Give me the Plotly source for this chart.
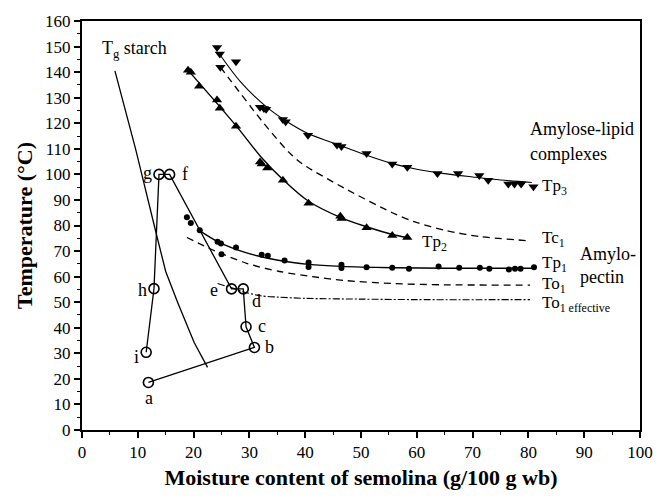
import plotly.graph_objects as go

# ---------------- data ----------------
# Tp3 (amylose-lipid complexes) - down triangles
tp3_x = [24.2, 24.7, 27.6, 24.8, 31.9, 32.6, 33.0, 36.0, 36.5, 40.5, 45.7, 46.5, 51.0, 55.6,
         58.3, 63.7, 67.4, 71.2, 72.8, 76.4, 77.5, 78.7, 80.9]
tp3_y = [149.6, 147.1, 144.1, 141.9, 126.3, 125.8, 125.5, 121.5, 120.6, 115.3, 111.5, 110.9, 108.2, 104.1,
         102.8, 100.3, 100.3, 99.6, 97.7, 96.2, 96.2, 96.2, 95.2]
tp3_fit_x = [24.5, 28.3, 33.0, 36.5, 40.5, 46.0, 51.0, 56.0, 60.0, 65.0, 70.0, 75.0, 80.6]
tp3_fit_y = [147.5, 136.5, 126.5, 121.0, 116.0, 111.5, 107.5, 104.0, 102.0, 100.3, 99.0, 97.8, 96.8]

# Tp2 - up triangles
tp2_x = [19.0, 19.5, 21.0, 24.2, 24.7, 27.6, 31.9, 32.2, 33.2, 36.0, 40.6, 46.3, 46.5, 51.0, 55.6, 58.3]
tp2_y = [140.7, 140.0, 134.5, 129.1, 125.9, 118.8, 104.8, 104.1, 102.5, 97.7, 88.7, 83.6, 82.7, 79.1, 76.1, 75.3]
tp2_fit_x = [19.5, 24.5, 28.0, 32.0, 36.0, 40.6, 46.5, 51.0, 55.6, 58.3]
tp2_fit_y = [139.5, 127.0, 118.0, 107.0, 98.0, 89.5, 83.0, 79.5, 76.5, 75.3]

# Tp1 (amylopectin) - filled circles
tp1_x = [18.8, 19.5, 21.1, 24.3, 24.9, 25.0, 27.6, 32.2, 33.3, 36.3, 40.6, 40.6, 46.5, 46.5, 51.0, 55.6,
         58.6, 63.9, 67.6, 71.3, 73.0, 76.5, 77.6, 78.6, 81.0]
tp1_y = [83.2, 81.0, 78.1, 73.6, 73.0, 68.8, 71.4, 68.6, 68.2, 66.3, 65.5, 63.8, 64.6, 63.4, 63.7, 63.5,
         63.1, 64.0, 63.5, 63.5, 63.1, 62.8, 63.1, 63.1, 63.7]
tp1_fit_x = [20.7, 24.5, 29.5, 35.4, 40.6, 46.5, 55.6, 65.0, 81.0]
tp1_fit_y = [78.5, 73.5, 69.3, 66.3, 64.8, 64.0, 63.5, 63.3, 63.3]

# Tc1 dashed
tc1_x = [24.8, 26.6, 32.5, 37.1, 39.5, 47.1, 55.6, 59.5, 65.3, 71.2, 80.3]
tc1_y = [142.0, 136.8, 120.2, 108.6, 104.1, 94.5, 85.0, 81.5, 78.0, 75.7, 74.0]

# To1 dashed
to1_x = [18.8, 23.7, 29.5, 35.4, 41.3, 47.0, 55.6, 65.0, 80.3]
to1_y = [75.3, 70.2, 65.2, 62.0, 60.0, 58.5, 57.3, 56.8, 56.7]

# To1 effective dash-dot
to1e_x = [24.3, 27.0, 29.0, 32.0, 35.0, 40.0, 50.0, 60.0, 80.3]
to1e_y = [57.3, 55.5, 54.0, 52.5, 52.0, 51.5, 51.2, 51.0, 51.0]

# Tg starch
tg_x = [5.9, 9.6, 13.4, 15.0, 17.2, 20.1, 22.5]
tg_y = [140.5, 110.0, 76.0, 62.0, 49.6, 34.2, 24.5]

# process path a..i (open circles)
path_lbl = ["a", "b", "c", "d", "e", "f", "g", "h", "i"]
path_x = [11.9, 30.9, 29.4, 28.9, 26.8, 15.7, 13.8, 12.9, 11.5]
path_y = [18.6, 32.3, 40.4, 55.2, 55.2, 100.0, 100.0, 55.3, 30.4]
lbl_x = [12.0, 33.6, 32.2, 31.3, 23.7, 18.5, 11.7, 10.9, 9.8]
lbl_y = [12.6, 32.3, 40.7, 50.6, 54.8, 100.0, 100.6, 54.8, 28.6]

x_ticks = list(range(0, 101, 10))
y_ticks = list(range(0, 161, 10))

FONT = "Liberation Serif"
fig = go.Figure()

def line(x, y, dash="solid", width=1.1, shape="spline"):
    fig.add_trace(go.Scatter(x=x, y=y, mode="lines", line=dict(color="black", width=width, dash=dash,
                                                                 shape=shape, smoothing=0.8),
                             showlegend=False, hoverinfo="skip"))

line(tp3_fit_x, tp3_fit_y, width=1.1)
line(tp2_fit_x, tp2_fit_y, width=1.4)
line(tp1_fit_x, tp1_fit_y, width=1.4)
line(tc1_x, tc1_y, dash="7px,5px", width=1.3)
line(to1_x, to1_y, dash="7px,5px", width=1.3)
line(to1e_x, to1e_y, dash="7px,2px,2px,2px", width=1.1)
line(tg_x, tg_y, width=1.3, shape="linear")

fig.add_trace(go.Scatter(x=tp3_x, y=tp3_y, mode="markers",
                         marker=dict(symbol="triangle-down", size=9, color="black"), showlegend=False))
fig.add_trace(go.Scatter(x=tp2_x, y=tp2_y, mode="markers",
                         marker=dict(symbol="triangle-up", size=9, color="black"), showlegend=False))
fig.add_trace(go.Scatter(x=tp1_x, y=tp1_y, mode="markers",
                         marker=dict(symbol="circle", size=6, color="black"), showlegend=False))
fig.add_trace(go.Scatter(x=path_x, y=path_y, mode="lines+markers",
                         line=dict(color="black", width=1.3),
                         marker=dict(symbol="circle-open", size=10, color="black", line=dict(width=1.6)),
                         showlegend=False))

ann = []
for t, x, y in zip(path_lbl, lbl_x, lbl_y):
    ann.append(dict(x=x, y=y, text=t, showarrow=False, xanchor="center", yanchor="middle",
                    font=dict(family=FONT, size=18, color="black")))

right_labels = [("Tp<sub>3</sub>", 82.0, 95.2), ("Tc<sub>1</sub>", 82.0, 74.8),
                ("Tp<sub>1</sub>", 82.0, 65.0), ("To<sub>1</sub>", 82.0, 56.9),
                ("To<sub>1 effective</sub>", 82.0, 49.2), ("Tp<sub>2</sub>", 60.5, 73.0)]
for t, x, y in right_labels:
    ann.append(dict(x=x, y=y, text=t, showarrow=False, xanchor="left", yanchor="middle",
                    font=dict(family=FONT, size=17, color="black")))

texts = [("Amylose-lipid", 80.0, 117.8), ("complexes", 80.0, 108.0),
         ("Amylo-", 88.8, 68.8), ("pectin", 88.8, 59.8), ("T<sub>g</sub> starch", 3.2, 149.0)]
for t, x, y in texts:
    ann.append(dict(x=x, y=y, text=t, showarrow=False, xanchor="left", yanchor="middle",
                    font=dict(family=FONT, size=18, color="black")))

axis_common = dict(showline=True, linecolor="black", linewidth=2, mirror=True,
                   ticks="outside", ticklen=6, tickwidth=1.5, tickcolor="black",
                   showgrid=False, zeroline=False,
                   tickfont=dict(family=FONT, size=17, color="black"))

fig.update_layout(
    width=665, height=498,
    margin=dict(l=82, r=15, t=20, b=62),
    paper_bgcolor="white", plot_bgcolor="white",
    annotations=ann,
    xaxis=dict(range=[0, 100], tickvals=x_ticks,
               minor=dict(dtick=5, ticks="outside", ticklen=3, tickcolor="black", tickwidth=1.2),
               title=dict(text="<b>Moisture content of semolina (g/100 g wb)</b>",
                          font=dict(family=FONT, size=22, color="black"), standoff=8),
               **axis_common),
    yaxis=dict(range=[0, 160], tickvals=y_ticks,
               minor=dict(dtick=5, ticks="outside", ticklen=3, tickcolor="black", tickwidth=1.2),
               title=dict(text="<b>Temperature (°C)</b>",
                          font=dict(family=FONT, size=22, color="black"), standoff=6),
               **axis_common),
)

fig.write_html("out.html")
